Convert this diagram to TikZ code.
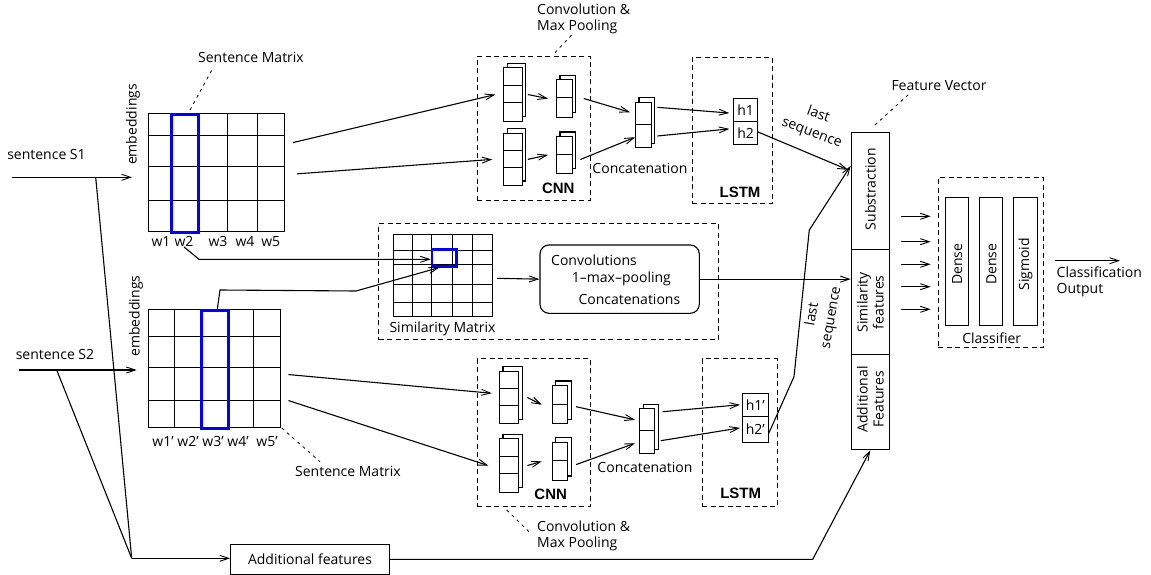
\documentclass[tikz,border=0pt]{standalone}
\usepackage{fontspec}
\setmainfont{Open Sans}
\newfontfamily\boldfont{Liberation Sans}
\usetikzlibrary{arrows.meta,calc}

\tikzset{
 every node/.style={font=\fontsize{14}{16}\selectfont},
 ln/.style={line width=1.1pt},
 gl/.style={line width=1pt},
 arr/.style={ln, -{Straight Barb[length=9pt,width=6pt,line width=0.9pt]}},
 dbox/.style={draw, line width=1pt, dash pattern=on 5pt off 3.5pt},
 ptr/.style={line width=0.8pt, dash pattern=on 3pt off 4pt},
 cell/.style={draw, line width=1.1pt, inner sep=0, anchor=north west},
 blu/.style={draw=blue, line width=3pt},
 lbl/.style={inner sep=0},
 seq/.style={inner sep=0, align=center, font=\fontsize{14}{19}\selectfont},
 bld/.style={inner sep=0, font=\boldfont\bfseries\fontsize{15}{17}\selectfont},
}
% [opts]{name}{x1}{y1}{x2}{y2}
\newcommand\boxat[6][]{%
 \node[cell,#1,minimum width={(#5-#3)*1pt},minimum height={(#6-#4)*1pt}] (#2) at (#3,#4) {};}
% {name}{x1}{y1}{x2}{y2}{rows}
\newcommand\layers[6]{%
 \draw[ln,fill=white] (#2+4,#3-4) rectangle (#4+4,#5-4);
 \boxat[fill=white]{#1}{#2}{#3}{#4}{#5}
 \pgfmathtruncatemacro\myrows{#6-1}
 \foreach \k in {1,...,\myrows}{\draw[gl] (#2,{#3+\k*(#5-#3)/#6}) -- (#4,{#3+\k*(#5-#3)/#6});}
}

\begin{document}
\begin{tikzpicture}[x=1pt,y=-1pt]
\useasboundingbox (0,0) rectangle (1151,575);

% ---------------- inputs
\node[lbl] (s1t) at (46.5,154) {sentence S1};
\node[lbl] (s2t) at (55,354) {sentence S2};
\coordinate (s1a) at (12,177.3);
\coordinate (s1e) at (132,177.3);
\coordinate (s1b) at (95.7,177.3);
\coordinate (s2a) at (19,370);
\coordinate (s2e) at (136.7,370);
\coordinate (s2b) at (56.7,370);
\coordinate (meet) at (131.7,558.3);
\draw[arr] (s1a) -- (s1e);
\draw[arr] (s2a) -- (s2e);
\draw[ln] (s1b) -- (meet);
\draw[ln] (s2b) -- (meet);
\node[draw,ln,minimum width=158.6pt,minimum height=30pt,inner sep=0] (af) at (310,559.3) {Additional features};
\draw[arr] (meet) -- (meet -| af.west);

% ---------------- sentence matrix 1
\node[lbl,rotate=90] (emb1) at (133,124.5) {embeddings};
\boxat{m1}{147.7}{112.7}{284}{230.7}
\draw[gl] foreach \c in {171,197,227.3,257.3} {(\c,112.7) -- (\c,230.7)}
          foreach \r in {136,166,200} {(147.7,\r) -- (284,\r)};
\boxat[blu]{b1}{170}{112.7}{197}{230.7}
\node[lbl] (w1) at (161,241.7) {w1};
\node[lbl] (w2) at (184,241.7) {w2};
\node[lbl] (w3) at (218,241.7) {w3};
\node[lbl] (w4) at (245,241.7) {w4};
\node[lbl] (w5) at (270.7,241.7) {w5};
\node[lbl] (sml1) at (251,57) {Sentence Matrix};
\draw[ptr] (190,110) -- (213,68);

% ---------------- sentence matrix 2
\node[lbl,rotate=90] (emb2) at (136,316) {embeddings};
\boxat{m2}{147.7}{309.3}{280}{426.7}
\draw[gl] foreach \c in {174,200.3,227.3,253.3} {(\c,309.3) -- (\c,426.7)}
          foreach \r in {336.7,367.3,400.7} {(147.7,\r) -- (280,\r)};
\boxat[blu]{b2}{200.3}{309.3}{227.3}{426.7}
\node[lbl] (w1p) at (163,441.7) {w1'};
\node[lbl] (w2p) at (188,441.7) {w2'};
\node[lbl] (w3p) at (213,441.7) {w3'};
\node[lbl] (w4p) at (238,441.7) {w4'};
\node[lbl] (w5p) at (267,441.7) {w5'};
\node[lbl] (sml2) at (348,471) {Sentence Matrix};
\draw[ptr] (281.7,428) -- (320,461.7);

% ---------------- similarity block
\boxat[dbox]{simbox}{378.3}{223.3}{718.3}{339.3}
\boxat{sm}{393.3}{234}{491.7}{316}
\draw[gl] foreach \c in {412.3,431.7,452.7,472.7} {(\c,234) -- (\c,316)}
          foreach \r in {250,264,284,302.7} {(393.3,\r) -- (491.7,\r)};
\boxat[draw=blue,line width=2.6pt]{bc}{430.7}{248.3}{455}{265}
\node[lbl] (smlab) at (442.5,329) {Similarity Matrix};
\node[draw,ln,rounded corners=9pt,minimum width=159.3pt,minimum height=68.3pt,inner sep=0] (rb) at (619.65,279.15) {};
\node[lbl,anchor=west] (rt1) at (551,260) {Convolutions};
\node[lbl,anchor=west] (rt2) at (571.7,279) {1--max--pooling};
\node[lbl,anchor=west] (rt3) at (578.3,299.3) {Concatenations};
\draw[arr] ([xshift=4pt]sm.east |- 0,278.3) -- (rb.west);

\coordinate (c1) at (199,259.3);
\draw[arr] (w2.south) -- (c1) -- (c1 -| bc.west);
\draw[arr] ([xshift=2pt]b2.north) -- (220,290) -- (356,291) -- ([xshift=-5pt]bc.south);

% ---------------- top CNN
\boxat[dbox]{cnn1}{476.7}{56}{590}{200}
\layers{tb1}{503.3}{67.3}{521.7}{120.7}{3}
\layers{tb2}{503.3}{132.7}{521.7}{185}{3}
\layers{ts1}{556}{79.3}{571.7}{116.7}{2}
\layers{ts2}{556}{136}{571.7}{172.7}{2}
\draw[arr] ([xshift=5pt]tb1.east) -- ([xshift=-8pt]ts1.west);
\draw[arr] ([xshift=5pt]tb2.east) -- ([xshift=-8pt]ts2.west);
\node[bld] (cnnl1) at (558.3,188.3) {CNN};
\node[lbl,align=left,anchor=west] (conv1) at (537,19) {Convolution \&\\Max Pooling};
\draw[ptr] (555,52.7) -- (571.7,35);
\draw[arr] ([shift={(8,-29.7)}]m1.east) -- ([xshift=-8pt]tb1.west);
\draw[arr] ([shift={(12,1.6)}]m1.east) -- ([xshift=-11pt]tb2.west);

\layers{tc}{635}{101.7}{650.7}{147.3}{2}
\node[lbl] (concl1) at (640,168.3) {Concatenation};
\draw[arr] ([xshift=11pt]ts1.east) -- ([shift={(-5,-12.8)}]tc.west);
\draw[arr] ([shift={(7.6,4.6)}]ts2.east) -- ([shift={(0,12.2)}]tc.west);

% ---------------- top LSTM
\boxat[dbox]{lstm1}{691.7}{56.7}{771.7}{203.3}
\node[draw,ln,minimum width=23.4pt,minimum height=22.4pt,inner sep=0,anchor=north west] (h1) at (733.3,98.3) {h1};
\node[draw,ln,minimum width=23.4pt,minimum height=23.3pt,inner sep=0,anchor=north west] (h2) at (733.3,120.7) {h2};
\node[bld] (lstml1) at (740,192.3) {LSTM};
\draw[arr] (657.3,107.3) -- ([shift={(-4,3)}]h1.west);
\draw[arr] (657.3,136) -- ([shift={(-4,-4)}]h2.west);

% ---------------- bottom CNN
\boxat[dbox]{cnn2}{476.7}{358.3}{590}{506}
\layers{bb1}{499}{370.7}{518.3}{423.3}{3}
\layers{bb2}{499}{438.3}{518.3}{491.7}{3}
\layers{bs1}{551.7}{385}{567.3}{423.3}{2}
\layers{bs2}{551.7}{441.7}{567.3}{480}{2}
\draw[arr] ([xshift=8pt]bb1.east) -- ([xshift=-10pt]bs1.west);
\draw[arr] ([xshift=8pt]bb2.east) -- ([xshift=-10pt]bs2.west);
\node[bld] (cnnl2) at (550.7,494) {CNN};
\node[lbl,align=left,anchor=west] (conv2) at (537,536) {Convolution \&\\Max Pooling};
\draw[ptr] (506.7,510) -- (529.3,532);
\draw[arr] ([shift={(7.3,6)}]m2.east) -- ([shift={(-7.3,-4.3)}]bb1.west);
\draw[arr] ([shift={(7.3,32)}]m2.east) -- ([xshift=-10.7pt]bb2.west);

\layers{bcc}{639.3}{408.3}{654.3}{453.3}{2}
\node[lbl] (concl2) at (645,467.7) {Concatenation};
\draw[arr] ([shift={(7.7,2)}]bs1.east) -- ([shift={(-4.3,-11.5)}]bcc.west);
\draw[arr] ([shift={(7.7,3.2)}]bs2.east) -- ([shift={(-4.3,11.9)}]bcc.west);

% ---------------- bottom LSTM
\boxat[dbox]{lstm2}{701.7}{358.3}{776.7}{506}
\node[draw,ln,minimum width=26pt,minimum height=23pt,inner sep=0,anchor=north west] (h1p) at (741.7,392.7) {h1'};
\node[draw,ln,minimum width=26pt,minimum height=26.3pt,inner sep=0,anchor=north west] (h2p) at (741.7,415.7) {h2'};
\node[bld] (lstml2) at (740.7,493.3) {LSTM};
\draw[arr] (662.7,411.7) -- ([xshift=-1.7pt]h1p.west);
\draw[arr] (660.7,440.7) -- ([shift={(-1.7,-1.5)}]h2p.west);

% ---------------- feature vector
\boxat{fvsub}{850.7}{132}{888.7}{249.3}
\boxat{fvsim}{850.7}{249.3}{888.7}{354.3}
\boxat{fvadd}{850.7}{354.3}{888.7}{449.3}
\node[lbl,rotate=90] at ([yshift=2pt]fvsub.center) {Substraction};
\node[lbl,rotate=90,align=center] at (fvsim.center) {Similarity\\features};
\node[lbl,rotate=90,align=center] at ([yshift=3pt]fvadd.center) {Additional\\Features};
\node[lbl] (fvl) at (939,86) {Feature Vector};
\draw[ptr] (875,125) -- (908,95);

\draw[arr] ([yshift=1pt]h2.east) -- ([shift={(-2.7,-21.4)}]fvsub.west);
\node[seq,rotate=-20] (ls1) at (815,124) {last\\sequence};
\draw[arr] ([yshift=-3.8pt]h2p.east) -- (794,376.7) -- (809.3,230) -- ([yshift=25.4pt]fvsub.west);
\node[seq,rotate=80] (ls2) at (822,316) {last\\sequence};
\draw[arr] (rb.east) -- (rb.east -| fvsim.west);
\draw[arr] (af.east) -- (812.7,559.3) -- (fvadd.south);

% ---------------- classifier
\boxat[dbox]{cls}{937.7}{177.3}{1043.3}{347.3}
\boxat{d1}{945}{196.7}{968.3}{325}
\boxat{d2}{979.3}{196.7}{1002.3}{325}
\boxat{d3}{1013.3}{196.7}{1036.7}{325}
\node[lbl,rotate=90] at ([yshift=-3pt]d1.center) {Dense};
\node[lbl,rotate=90] at ([yshift=-3pt]d2.center) {Dense};
\node[lbl,rotate=90] at ([yshift=-3pt]d3.center) {Sigmoid};
\node[lbl] (clsl) at (991.7,338.3) {Classifier};
\foreach \yy in {216.3,241.7,264.3,286.7,309.3}{
  \draw[arr] ([xshift=11pt]fvsub.east |- 0,\yy) -- ([xshift=-7pt]cls.west |- 0,\yy);
}
\coordinate (outa) at (1055,260.7);
\coordinate (outb) at (1120,260.7);
\draw[arr] (outa) -- (outb);
\node[lbl,align=left,anchor=west] (outl) at (1056.5,281.5) {Classification\\Output};
\end{tikzpicture}
\end{document}
